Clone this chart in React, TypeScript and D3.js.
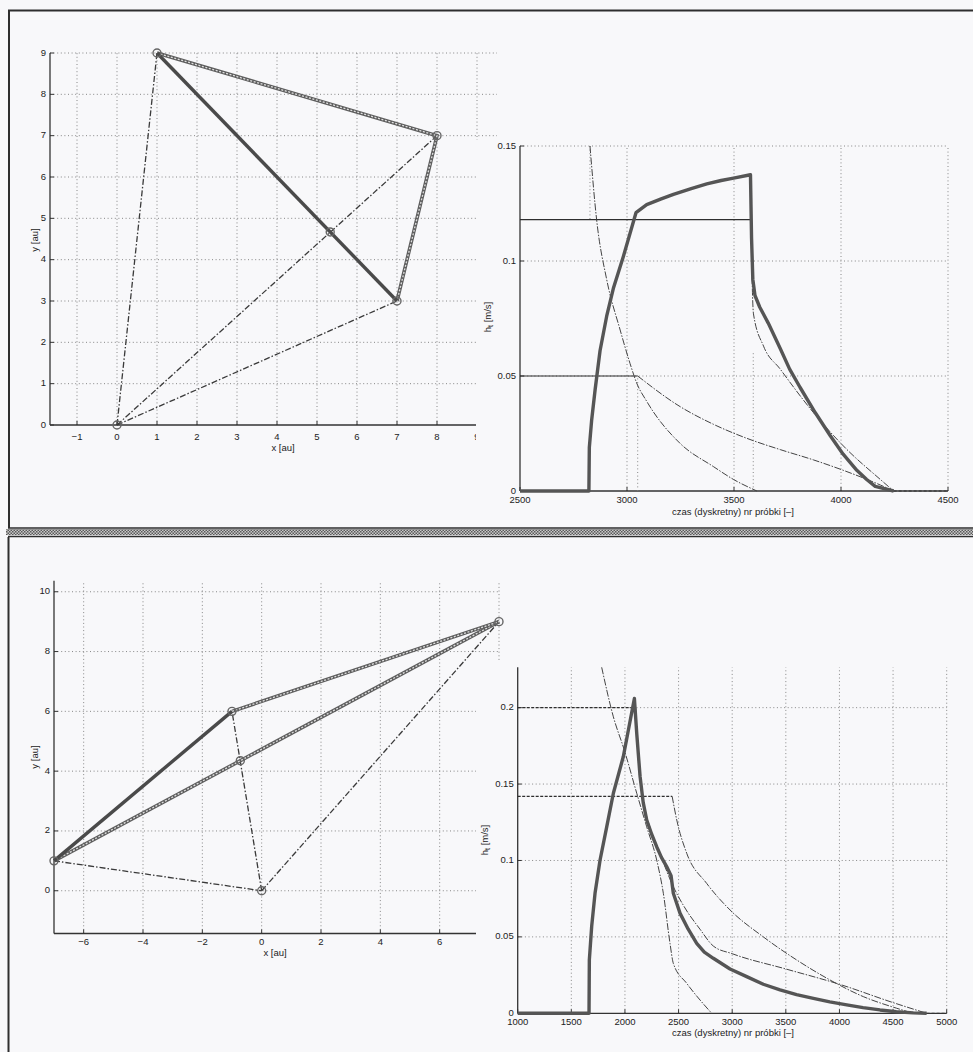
import React, { useEffect, useRef } from 'react';
import * as d3 from 'd3';

type Pt = [number, number];

// ---- top left: geometry (x/y in au)
const tlThick: Pt[][] = [[[1, 9], [7, 3]]];
const tlChain: Pt[][] = [[[1, 9], [8, 7], [7, 3]]];
const tlDashDot: Pt[][] = [[[0, 0], [1, 9]], [[0, 0], [8, 7]], [[0, 0], [7, 3]]];
const tlMarkers: Pt[] = [[0, 0], [1, 9], [8, 7], [7, 3], [5.33, 4.67]];
const tlXTicks = [-1, 0, 1, 2, 3, 4, 5, 6, 7, 8, 9];
const tlYTicks = [0, 1, 2, 3, 4, 5, 6, 7, 8, 9];

// ---- top right: h_t over sample number
const trThick: Pt[] = [[2500, 0], [2822, 0], [2824, 0.019], [2835, 0.031], [2851, 0.044], [2874, 0.061], [2905, 0.076], [2936, 0.088], [2983, 0.102], [3042, 0.121], [3092, 0.1245], [3160, 0.127], [3217, 0.129], [3300, 0.1315], [3373, 0.1335], [3440, 0.135], [3498, 0.136], [3577, 0.1375], [3582, 0.11], [3588, 0.092], [3598, 0.085], [3620, 0.08], [3660, 0.073], [3716, 0.062], [3760, 0.053], [3809, 0.045], [3880, 0.034], [3950, 0.024], [4010, 0.016], [4074, 0.009], [4120, 0.005], [4160, 0.002], [4246, 0]];
const trDashA: Pt[] = [[2827, 0.15], [2858, 0.118], [2905, 0.092], [2968, 0.07], [3014, 0.0555], [3045, 0.047], [3092, 0.039], [3248, 0.0207], [3404, 0.0106], [3498, 0.005], [3607, 0]];
const trDashB: Pt[] = [[3050, 0.05], [3248, 0.0367], [3404, 0.029], [3560, 0.0229], [3716, 0.018], [3872, 0.0135], [4028, 0.0084], [4184, 0.0026], [4246, 0]];
const trDashC: Pt[] = [[3580, 0.118], [3584, 0.095], [3591, 0.077], [3638, 0.063], [3716, 0.053], [3872, 0.034], [4028, 0.018], [4184, 0.005], [4246, 0]];
const trLevels: Pt[][] = [[[2500, 0.118], [3580, 0.118]], [[2500, 0.05], [3050, 0.05]]];
const trDrops: Pt[][] = [[[2827, 0.15], [2827, 0.118]], [[3050, 0], [3050, 0.05]], [[3590, 0], [3590, 0.06]]];
const trTail: Pt[] = [[4246, 0], [4500, 0]];
const trXTicks = [2500, 3000, 3500, 4000, 4500];
const trYTicks = [0, 0.05, 0.1, 0.15];

// ---- bottom left: geometry
const blThick: Pt[][] = [[[-7, 1], [-1, 6]]];
const blChain: Pt[][] = [[[-7, 1], [8, 9]], [[-1, 6], [8, 9]]];
const blDashDot: Pt[][] = [[[-7, 1], [0, 0]], [[0, 0], [-1, 6]], [[0, 0], [8, 9]]];
const blMarkers: Pt[] = [[-7, 1], [-1, 6], [0, 0], [8, 9], [-0.72, 4.35]];
const blXTicks = [-6, -4, -2, 0, 2, 4, 6];
const blXGrid = [-6, -4, -2, 0, 2, 4, 6, 8];
const blYTicks = [0, 2, 4, 6, 8, 10];

// ---- bottom right: h_t over sample number
const brThick: Pt[] = [[1000, 0], [1665, 0], [1668, 0.035], [1690, 0.057], [1721, 0.0785], [1768, 0.1003], [1830, 0.122], [1892, 0.144], [1985, 0.168], [2088, 0.206], [2110, 0.183], [2141, 0.155], [2170, 0.138], [2203, 0.1265], [2250, 0.117], [2296, 0.109], [2340, 0.102], [2389, 0.096], [2430, 0.09], [2451, 0.0785], [2514, 0.0654], [2590, 0.055], [2669, 0.0458], [2740, 0.04], [2824, 0.036], [2980, 0.029], [3135, 0.024], [3290, 0.019], [3446, 0.0153], [3600, 0.0122], [3757, 0.0098], [3910, 0.0075], [4068, 0.0055], [4220, 0.0037], [4378, 0.0022], [4530, 0.001], [4689, 0.0003], [4813, 0]];
const brDashA: Pt[] = [[1783, 0.2264], [1892, 0.194], [1995, 0.172], [2110, 0.144], [2203, 0.122], [2296, 0.1003], [2358, 0.0785], [2420, 0.0458], [2451, 0.0327], [2576, 0.0196], [2700, 0.0087], [2809, 0]];
const brDashB: Pt[] = [[2440, 0.142], [2483, 0.1265], [2576, 0.1047], [2762, 0.085], [2980, 0.0676], [3290, 0.05], [3601, 0.0349], [3912, 0.0218], [4223, 0.0109], [4534, 0.0033], [4689, 0]];
const brDashC: Pt[] = [[2100, 0.2], [2125, 0.165], [2170, 0.14], [2250, 0.118], [2350, 0.1], [2450, 0.083], [2550, 0.07], [2700, 0.055], [2824, 0.044], [3000, 0.039], [3500, 0.029], [4000, 0.019], [4500, 0.007], [4813, 0]];
const brLevels: Pt[][] = [[[1000, 0.2], [2100, 0.2]], [[1000, 0.142], [2440, 0.142]]];
const brTail: Pt[] = [[4813, 0], [5000, 0]];
const brXTicks = [1000, 1500, 2000, 2500, 3000, 3500, 4000, 4500, 5000];
const brYTicks = [0, 0.05, 0.1, 0.15, 0.2];

const PAPER = '#f8f8fa';
const FONT = 'Liberation Sans, Arial, sans-serif';

type Sel = d3.Selection<SVGGElement, unknown, null, undefined>;
type Scale = d3.ScaleLinear<number, number>;

const drawAxes = (g: Sel, x: Scale, y: Scale, xt: number[], yt: number[], labOff: number, xGrid?: number[]) => {
  const [x0, x1] = x.range();
  const [y0, y1] = y.range();

  // dotted grid
  g.selectAll('gx').data((xGrid || xt).filter(d => x(d) > x0 + 1)).enter().append('line')
    .attr('x1', d => x(d)).attr('x2', d => x(d)).attr('y1', y0).attr('y2', y1)
    .attr('stroke', '#7a7a7a').attr('stroke-width', 0.9).attr('stroke-dasharray', '1,2.6');
  g.selectAll('gy').data(yt.filter(d => y(d) < y0 - 1)).enter().append('line')
    .attr('x1', x0).attr('x2', x1).attr('y1', d => y(d)).attr('y2', d => y(d))
    .attr('stroke', '#7a7a7a').attr('stroke-width', 0.9).attr('stroke-dasharray', '1,2.6');

  // axis lines
  g.append('line').attr('x1', x0).attr('x2', x0).attr('y1', y0).attr('y2', y1)
    .attr('stroke', '#333').attr('stroke-width', 1.3);
  g.append('line').attr('x1', x0).attr('x2', x1).attr('y1', y0).attr('y2', y0)
    .attr('stroke', '#333').attr('stroke-width', 1.3);

  // inward ticks
  g.selectAll('tx').data(xt).enter().append('line')
    .attr('x1', d => x(d)).attr('x2', d => x(d)).attr('y1', y0).attr('y2', y0 - 4)
    .attr('stroke', '#333');
  g.selectAll('ty').data(yt).enter().append('line')
    .attr('x1', x0).attr('x2', x0 + 4).attr('y1', d => y(d)).attr('y2', d => y(d))
    .attr('stroke', '#333');

  g.selectAll('lx').data(xt).enter().append('text')
    .attr('x', d => x(d)).attr('y', y0 + labOff)
    .attr('text-anchor', 'middle').attr('dominant-baseline', 'middle')
    .attr('font-size', 9.5).attr('font-family', FONT).attr('fill', '#222')
    .text(d => (d < 0 ? '\u2212' + Math.abs(d) : String(d)));
  g.selectAll('ly').data(yt).enter().append('text')
    .attr('x', x0 - 4).attr('y', d => y(d))
    .attr('text-anchor', 'end').attr('dominant-baseline', 'middle')
    .attr('font-size', 9.5).attr('font-family', FONT).attr('fill', '#222')
    .text(d => String(d));
};

const label = (g: Sel, x: number, y: number, txt: string, rotate = false) => {
  g.append('text')
    .attr('transform', `translate(${x},${y})${rotate ? ' rotate(-90)' : ''}`)
    .attr('text-anchor', 'middle').attr('dominant-baseline', 'middle')
    .attr('font-size', 9.5).attr('font-family', FONT).attr('fill', '#222')
    .text(txt);
};

const htLabel = (g: Sel, x: number, y: number) => {
  const t = g.append('text')
    .attr('transform', `translate(${x},${y}) rotate(-90)`)
    .attr('text-anchor', 'middle').attr('dominant-baseline', 'middle')
    .attr('font-size', 9.5).attr('font-family', FONT).attr('fill', '#222');
  t.append('tspan').text('h');
  t.append('tspan').attr('font-size', 7).attr('dy', 3).text('t');
  t.append('tspan').attr('dy', -3).text(' [m/s]');
};

const drawGeometry = (g: Sel, x: Scale, y: Scale, thick: Pt[][], chain: Pt[][], dash: Pt[][], marks: Pt[]) => {
  const line = d3.line<Pt>().x(d => x(d[0])).y(d => y(d[1]));
  dash.forEach(seg => {
    g.append('path').attr('d', line(seg)).attr('fill', 'none')
      .attr('stroke', '#3a3a3a').attr('stroke-width', 1.3).attr('stroke-dasharray', '6,2,1.5,2');
  });
  chain.forEach(seg => {
    g.append('path').attr('d', line(seg)).attr('fill', 'none')
      .attr('stroke', '#5e5e5e').attr('stroke-width', 3.6);
    g.append('path').attr('d', line(seg)).attr('fill', 'none')
      .attr('stroke', '#dedede').attr('stroke-width', 1.3).attr('stroke-dasharray', '2,1.6');
  });
  thick.forEach(seg => {
    g.append('path').attr('d', line(seg)).attr('fill', 'none')
      .attr('stroke', '#4a4a4a').attr('stroke-width', 3.4);
  });
  g.selectAll('mk').data(marks).enter().append('circle')
    .attr('cx', d => x(d[0])).attr('cy', d => y(d[1])).attr('r', 4)
    .attr('fill', 'none').attr('stroke', '#666').attr('stroke-width', 1.4);
};

const drawSignals = (g: Sel, x: Scale, y: Scale, thick: Pt[], thin: Pt[][], levels: Pt[][], levelDash: string, drops: Pt[][], tail: Pt[]) => {
  const line = d3.line<Pt>().x(d => x(d[0])).y(d => y(d[1]));
  const smooth = d3.line<Pt>().x(d => x(d[0])).y(d => y(d[1])).curve(d3.curveMonotoneX);
  drops.forEach(seg => {
    g.append('path').attr('d', line(seg)).attr('fill', 'none')
      .attr('stroke', '#7a7a7a').attr('stroke-width', 0.9).attr('stroke-dasharray', '1,2.6');
  });
  levels.forEach(seg => {
    g.append('path').attr('d', line(seg)).attr('fill', 'none')
      .attr('stroke', '#2e2e2e').attr('stroke-width', 1.2).attr('stroke-dasharray', levelDash);
  });
  g.append('path').attr('d', line(tail)).attr('fill', 'none')
    .attr('stroke', '#333').attr('stroke-width', 1).attr('stroke-dasharray', '3,2');
  thin.forEach(seg => {
    g.append('path').attr('d', smooth(seg)).attr('fill', 'none')
      .attr('stroke', '#444').attr('stroke-width', 1).attr('stroke-dasharray', '7,1.5,1.5,1.5');
  });
  g.append('path').attr('d', line(thick)).attr('fill', 'none')
    .attr('stroke', '#555').attr('stroke-width', 3.4).attr('stroke-linejoin', 'round');
};

const App = () => {
  const ref = useRef<SVGSVGElement>(null);

  useEffect(() => {
    const svg = d3.select(ref.current);
    svg.selectAll('*').remove();

    svg.append('rect').attr('width', 973).attr('height', 1052).attr('fill', PAPER);

    // hatched separator
    const pat = svg.append('defs').append('pattern').attr('id', 'hatch')
      .attr('width', 3).attr('height', 3).attr('patternUnits', 'userSpaceOnUse');
    pat.append('rect').attr('width', 3).attr('height', 3).attr('fill', '#c8c8c8');
    pat.append('rect').attr('width', 1.5).attr('height', 1.5).attr('fill', '#5a5a5a');
    pat.append('rect').attr('x', 1.5).attr('y', 1.5).attr('width', 1.5).attr('height', 1.5).attr('fill', '#5a5a5a');

    const root = svg.append('g') as unknown as Sel;

    // ---------- top left
    const x1 = d3.scaleLinear().domain([-1.675, 9.5]).range([50, 497]);
    const y1 = d3.scaleLinear().domain([0, 9]).range([425, 53]);
    const g1 = root.append('g') as Sel;
    drawAxes(g1, x1, y1, tlXTicks, tlYTicks, 12);
    drawGeometry(g1, x1, y1, tlThick, tlChain, tlDashDot, tlMarkers);
    label(g1, 283, 448, 'x [au]');
    label(g1, 35, 240, 'y [au]', true);

    // ---------- bottom left
    const x3 = d3.scaleLinear().domain([-7, 8]).range([54, 499]);
    const y3 = d3.scaleLinear().domain([-1.43, 10.37]).range([933.5, 580.7]);
    const g3 = root.append('g') as Sel;
    drawAxes(g3, x3, y3, blXTicks, blYTicks, 9, blXGrid);
    drawGeometry(g3, x3, y3, blThick, blChain, blDashDot, blMarkers);
    label(g3, 275, 953, 'x [au]');
    label(g3, 35, 757, 'y [au]', true);

    // pasted figures on the right cover the left plots
    root.append('rect').attr('x', 476).attr('y', 140).attr('width', 497).attr('height', 387).attr('fill', PAPER);
    root.append('rect').attr('x', 476).attr('y', 660).attr('width', 497).attr('height', 392).attr('fill', PAPER);

    // ---------- top right
    const x2 = d3.scaleLinear().domain([2500, 4500]).range([520, 948]);
    const y2 = d3.scaleLinear().domain([0, 0.15]).range([491, 146]);
    const g2 = root.append('g') as Sel;
    drawAxes(g2, x2, y2, trXTicks, trYTicks, 9);
    drawSignals(g2, x2, y2, trThick, [trDashA, trDashB, trDashC], trLevels, 'none', trDrops, trTail);
    label(g2, 733, 512, 'czas (dyskretny) nr próbki [\u2013]');
    htLabel(g2, 488, 317);

    // ---------- bottom right
    const x4 = d3.scaleLinear().domain([1000, 5000]).range([517.7, 946.7]);
    const y4 = d3.scaleLinear().domain([0, 0.2264]).range([1013.3, 667.3]);
    const g4 = root.append('g') as Sel;
    drawAxes(g4, x4, y4, brXTicks, brYTicks, 9);
    drawSignals(g4, x4, y4, brThick, [brDashA, brDashB, brDashC], brLevels, '3,1.5', [], brTail);
    label(g4, 733, 1033, 'czas (dyskretny) nr próbki [\u2013]');
    htLabel(g4, 485, 840);

    // page frames
    const fr = svg.append('g').attr('stroke', '#2e2e2e').attr('fill', 'none');
    fr.append('line').attr('x1', 8).attr('x2', 973).attr('y1', 10.5).attr('y2', 10.5).attr('stroke-width', 2.2);
    fr.append('line').attr('x1', 9).attr('x2', 9).attr('y1', 10).attr('y2', 528).attr('stroke-width', 2);
    fr.append('line').attr('x1', 8).attr('x2', 973).attr('y1', 528).attr('y2', 528).attr('stroke-width', 1.5);
    svg.append('rect').attr('x', 6).attr('y', 529).attr('width', 967).attr('height', 6).attr('fill', 'url(#hatch)');
    fr.append('line').attr('x1', 8).attr('x2', 973).attr('y1', 536.5).attr('y2', 536.5).attr('stroke-width', 1.5);
    fr.append('line').attr('x1', 8.5).attr('x2', 8.5).attr('y1', 537).attr('y2', 1052).attr('stroke-width', 2);
  }, []);

  return (
    <div style={{ position: 'absolute', left: 0, top: 0 }}>
      <svg ref={ref} width={973} height={1052} style={{ display: 'block' }} />
    </div>
  );
};

export default App;
